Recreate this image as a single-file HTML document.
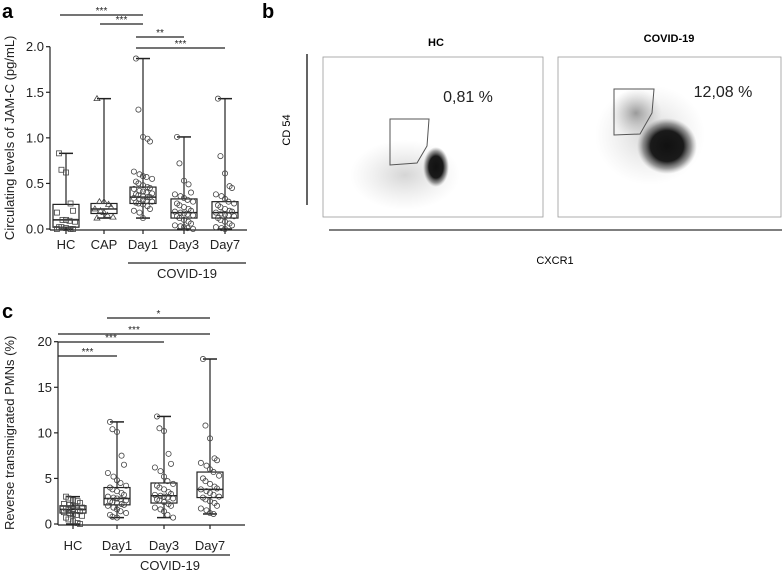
<!DOCTYPE html>
<html><head><meta charset="utf-8"><style>
html,body{margin:0;padding:0;background:#fff;width:784px;height:576px;overflow:hidden}
svg{font-family:"Liberation Sans",sans-serif}
</style></head><body>
<svg id="fig" width="784" height="576" viewBox="0 0 784 576">
<text x="2" y="18" font-size="20" font-weight="bold">a</text>
<text x="262" y="18" font-size="20" font-weight="bold">b</text>
<text x="2" y="318" font-size="20" font-weight="bold">c</text>
<g id="ga"></g>
<g id="gc"></g>
<g>
 <defs>
  <radialGradient id="blob"><stop offset="0" stop-color="#111"/><stop offset="0.55" stop-color="#1a1a1a"/><stop offset="0.8" stop-color="#555" stop-opacity="0.6"/><stop offset="1" stop-color="#888" stop-opacity="0"/></radialGradient>
  <radialGradient id="haze"><stop offset="0" stop-color="#888" stop-opacity="0.35"/><stop offset="1" stop-color="#aaa" stop-opacity="0"/></radialGradient>
  <radialGradient id="haze2"><stop offset="0" stop-color="#555" stop-opacity="0.55"/><stop offset="1" stop-color="#999" stop-opacity="0"/></radialGradient>
 </defs>
 <text x="436" y="46" font-size="11" font-weight="bold" text-anchor="middle">HC</text>
 <text x="669" y="42" font-size="11" font-weight="bold" text-anchor="middle">COVID-19</text>
 <rect x="323" y="57" width="220" height="160" fill="none" stroke="#999" stroke-width="0.8"/>
 <rect x="558" y="57" width="223" height="160" fill="none" stroke="#999" stroke-width="0.8"/>
 <ellipse cx="405" cy="175" rx="55" ry="35" fill="url(#haze)"/>
 <ellipse cx="436" cy="167" rx="13" ry="20" fill="url(#blob)"/>
 <polygon points="390,119 429,119 427,146 417,163 390,165" fill="none" stroke="#555" stroke-width="1"/>
 <text x="468" y="102" font-size="16" text-anchor="middle" fill="#222">0,81 %</text>
 <ellipse cx="650" cy="135" rx="55" ry="50" fill="url(#haze)"/>
 <ellipse cx="636" cy="113" rx="26" ry="24" fill="url(#haze2)"/>
 <ellipse cx="667" cy="146" rx="30" ry="28" fill="url(#blob)"/>
 <polygon points="614,89 654,89 652,113 640,134 614,135" fill="none" stroke="#555" stroke-width="1"/>
 <text x="723" y="97" font-size="16" text-anchor="middle" fill="#222">12,08 %</text>
 <line x1="307" y1="54" x2="307" y2="205" stroke="#111" stroke-width="1.3"/>
 <line x1="329" y1="230" x2="782" y2="230" stroke="#555" stroke-width="1.5"/>
 <text x="290" y="130" font-size="11" text-anchor="middle" transform="rotate(-90 290 130)">CD 54</text>
 <text x="555" y="264" font-size="11" text-anchor="middle">CXCR1</text>
</g>
</svg>
<script>
// Panel A data
const catsA = ["HC","CAP","Day1","Day3","Day7"];
const minA = [0,0.12,0.12,0,0];
const q1A = [0.02,0.17,0.28,0.12,0.12];
const medA = [0.1,0.22,0.35,0.18,0.18];
const q3A = [0.27,0.28,0.46,0.33,0.3];
const maxA = [0.83,1.43,1.87,1.01,1.43];
const ptsA = [
 [0.83,0.65,0.62,0.28,0.2,0.18,0.1,0.1,0.09,0.08,0.02,0.02,0.01,0,0,0],
 [1.43,0.3,0.3,0.27,0.24,0.22,0.2,0.18,0.15,0.13,0.12],
 [1.87,1.31,1.01,0.99,0.96,0.63,0.6,0.58,0.57,0.55,0.52,0.5,0.48,0.46,0.45,0.44,0.42,0.41,0.4,0.39,0.38,0.37,0.36,0.35,0.35,0.34,0.33,0.32,0.31,0.3,0.29,0.28,0.27,0.25,0.22,0.2,0.18,0.12],
 [1.01,0.72,0.53,0.49,0.4,0.38,0.36,0.34,0.32,0.3,0.28,0.26,0.24,0.22,0.2,0.19,0.18,0.17,0.16,0.15,0.14,0.12,0.1,0.08,0.06,0.04,0.03,0.02,0.01,0],
 [1.43,0.8,0.61,0.47,0.45,0.38,0.36,0.33,0.3,0.28,0.26,0.24,0.22,0.2,0.19,0.18,0.17,0.16,0.15,0.14,0.12,0.1,0.08,0.06,0.04,0.02,0.01,0]
];
const ticksA = [0,0.5,1.0,1.5,2.0];
const tickLabA = ["0.0","0.5","1.0","1.5","2.0"];
const sigA = [[0,2,"***"],[1,2,"***"],[2,3,"**"],[2,4,"***"]];
const markerA = ["square","tri","circle","circle","circle"];
// Panel C data
const catsC = ["HC","Day1","Day3","Day7"];
const minC = [0,0.7,0.7,1.1];
const q1C = [1.2,2.1,2.3,2.9];
const medC = [1.6,2.8,3.1,3.8];
const q3C = [2.0,4.0,4.5,5.7];
const maxC = [3.0,11.2,11.8,18.1];
const ptsC = [
 [3,2.8,2.6,2.5,2.3,2.2,2.1,2,1.9,1.8,1.7,1.6,1.6,1.5,1.4,1.3,1.2,1.1,1,0.9,0.7,0.5,0.3,0.1,0],
 [11.2,10.4,10.1,7.5,6.5,5.6,5.2,4.8,4.5,4.2,4,3.8,3.6,3.4,3.2,3,2.9,2.8,2.7,2.6,2.5,2.4,2.3,2.2,2.1,2,1.8,1.6,1.4,1.2,1,0.8,0.7],
 [11.8,10.5,10.2,7.7,6.6,6.2,5.8,5.2,4.7,4.4,4.2,4,3.8,3.5,3.3,3.2,3.1,3,2.9,2.8,2.7,2.6,2.4,2.2,2,1.8,1.6,1.4,1,0.7],
 [18.1,10.8,9.4,7.2,7,6.7,6.4,6,5.7,5.3,5,4.7,4.4,4.1,3.9,3.8,3.6,3.4,3.2,3,2.9,2.7,2.5,2.3,2,1.7,1.5,1.2,1.1]
];
const ticksC = [0,5,10,15,20];
const tickLabC = ["0","5","10","15","20"];
const sigC = [[1,3,"*"],[0,3,"***"],[0,2,"***"],[0,1,"***"]];
const markerC = ["square","circle","circle","circle"];

const NS="http://www.w3.org/2000/svg";
function mk(parent,tag,attrs){const e=document.createElementNS(NS,tag);for(const k in attrs)e.setAttribute(k,attrs[k]);parent.appendChild(e);return e;}

function drawPanel(g,cfg){
 const y=v=>cfg.y0+(cfg.y1-cfg.y0)*(v-cfg.vmin)/(cfg.vmax-cfg.vmin);
 const x=i=>cfg.xs[i];
 let ax=mk(g,"line",{x1:cfg.axX,y1:y(cfg.vmin)+1,x2:cfg.axX,y2:y(cfg.vmax),stroke:"#222","stroke-width":1.2});
 
 
 let bx=mk(g,"line",{x1:cfg.axX,y1:y(cfg.vmin)+1,x2:cfg.axEnd,y2:y(cfg.vmin)+1,stroke:"#222","stroke-width":1.2});
 
 
 cfg.ticks.forEach((t,i)=>{
  let tl=mk(g,"line",{x1:cfg.axX-4,y1:y(t),x2:cfg.axX,y2:y(t),stroke:"#222","stroke-width":1.2});
  
  
  let tx=mk(g,"text",{x:cfg.axX-6,y:y(t)+4.5,"font-size":13,"text-anchor":"end",fill:"#222"});
  tx.textContent=cfg.tickLab[i];
  
  
 });
 let yt=mk(g,"text",{x:cfg.titleX,y:(cfg.y0+cfg.y1)/2,"font-size":13,"text-anchor":"middle",transform:`rotate(-90 ${cfg.titleX} ${(cfg.y0+cfg.y1)/2})`,fill:"#222"});
 yt.textContent=cfg.title;
 
 
 cfg.cats.forEach((c,i)=>{
  const cx=x(i),w=cfg.bw;
  let tk=mk(g,"line",{x1:cx,y1:y(cfg.vmin)+1,x2:cx,y2:y(cfg.vmin)+5,stroke:"#222","stroke-width":1.2});
  
  
  let lb=mk(g,"text",{x:cx,y:cfg.labY,"font-size":13,"text-anchor":"middle",fill:"#222"});
  lb.textContent=c;
  
  
  const grp=mk(g,"g",{});
  
  
  mk(grp,"line",{x1:cx,y1:y(cfg.max[i]),x2:cx,y2:y(cfg.min[i]),stroke:"#222","stroke-width":1.2});
  mk(grp,"line",{x1:cx-7,y1:y(cfg.max[i]),x2:cx+7,y2:y(cfg.max[i]),stroke:"#222","stroke-width":1.5});
  mk(grp,"line",{x1:cx-7,y1:y(cfg.min[i]),x2:cx+7,y2:y(cfg.min[i]),stroke:"#222","stroke-width":1.5});
  mk(grp,"rect",{x:cx-w/2,y:y(cfg.q3[i]),width:w,height:y(cfg.q1[i])-y(cfg.q3[i]),fill:"#fff",stroke:"#222","stroke-width":1.2});
  mk(grp,"line",{x1:cx-w/2,y1:y(cfg.med[i]),x2:cx+w/2,y2:y(cfg.med[i]),stroke:"#222","stroke-width":1.5});
  const pts=cfg.pts[i];
  pts.forEach((v,j)=>{
   const off=((j%5)-2)*cfg.jit*(1+ (j%2)*0.3);
   const px=cx+off,py=y(v);
   let m;
   if(cfg.marker[i]==="square") m=mk(grp,"rect",{x:px-2.5,y:py-2.5,width:5,height:5,fill:"none",stroke:"#444","stroke-width":0.8});
   else if(cfg.marker[i]==="tri") m=mk(grp,"polygon",{points:`${px},${py-3} ${px+3},${py+2} ${px-3},${py+2}`,fill:"none",stroke:"#444","stroke-width":0.8});
   else m=mk(grp,"circle",{cx:px,cy:py,r:2.6,fill:"none",stroke:"#444","stroke-width":0.8});
   
   
  });
 });
 cfg.sig.forEach((s,k)=>{
  const yy=cfg.sigY[k];
  let l=mk(g,"line",{x1:cfg.sigX0(s[0]),y1:yy,x2:x(s[1]),y2:yy,stroke:"#222","stroke-width":1.2});
  
  
  let t=mk(g,"text",{x:(cfg.sigX0(s[0])+x(s[1]))/2,y:yy-1,"font-size":10,"text-anchor":"middle",fill:"#222"});
  t.textContent=s[2];
  
  
 });
 let gl=mk(g,"line",{x1:cfg.grpX0,y1:cfg.grpLineY,x2:cfg.grpX1,y2:cfg.grpLineY,stroke:"#222","stroke-width":1.3});
 
 
 let gt=mk(g,"text",{x:(cfg.grpX0+cfg.grpX1)/2,y:cfg.grpLineY+15,"font-size":13,"text-anchor":"middle",fill:"#222"});
 gt.textContent="COVID-19";
 
 
}
drawPanel(document.getElementById("ga"),{
 cats:catsA,min:minA,q1:q1A,med:medA,q3:q3A,max:maxA,pts:ptsA,marker:markerA,
 ticks:ticksA,tickLab:tickLabA,sig:sigA,vmin:0,vmax:2,y0:229,y1:46.7,
 xs:[66,104,143,184,225],axX:50,axEnd:247,bw:26,jit:3.5,titleX:14,labY:249,
 title:"Circulating levels of JAM-C (pg/mL)",
 sigY:[15,24,37,48],sigX0:i=>[60,100,136][i],
 grpX0:128,grpX1:246,grpLineY:263
});
drawPanel(document.getElementById("gc"),{
 cats:catsC,min:minC,q1:q1C,med:medC,q3:q3C,max:maxC,pts:ptsC,marker:markerC,
 ticks:ticksC,tickLab:tickLabC,sig:sigC,vmin:0,vmax:20,y0:524,y1:341.7,
 xs:[73,117,164,210],axX:58,axEnd:245,bw:26,jit:3.5,titleX:14,labY:550,
 title:"Reverse transmigrated PMNs (%)",
 sigY:[318,334,342,356],sigX0:i=>[58,107][i],
 grpX0:110,grpX1:230,grpLineY:555
});
</script>
</body></html>
